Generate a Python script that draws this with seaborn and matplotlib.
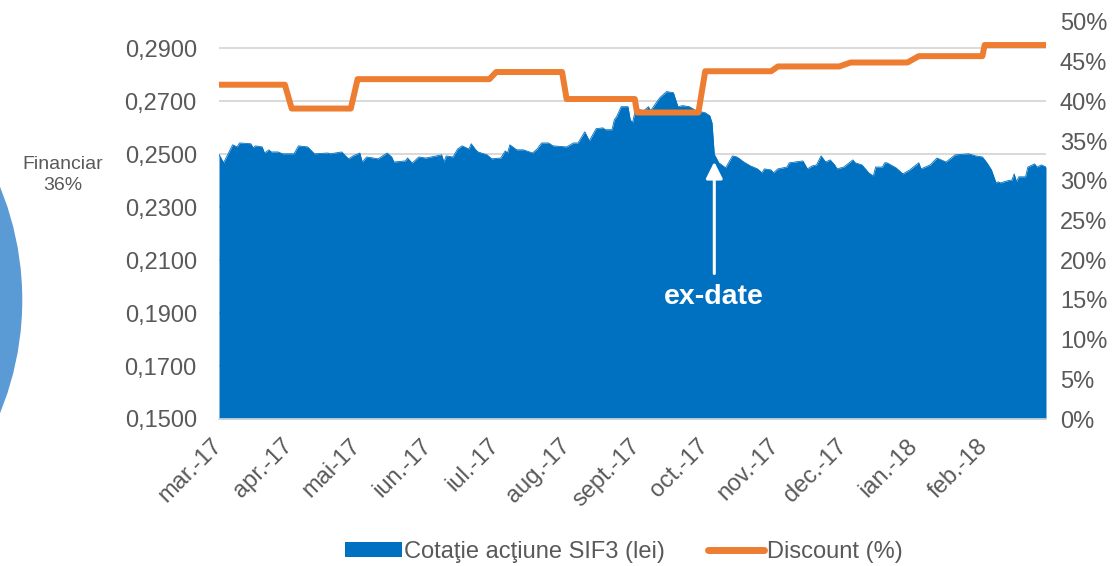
import numpy as np
import pandas as pd
import matplotlib
matplotlib.use("Agg")
import matplotlib.pyplot as plt
import seaborn as sns
from matplotlib.patches import Patch
from matplotlib.lines import Line2D
from matplotlib.ticker import FuncFormatter

# ---------------- data ----------------
start_date = "2017-03-01"

price_day = [0, 2, 6, 8, 9, 14, 15, 16, 19, 20,
             22, 23, 26, 28, 33, 35, 39, 42, 48, 49,
             54, 57, 59, 62, 63, 65, 70, 74, 76, 77,
             82, 83, 85, 88, 91, 98, 99, 100, 103, 105,
             107, 110, 111, 113, 114, 118, 120, 124, 126, 127,
             128, 131, 134, 138, 140, 142, 145, 147, 153, 156,
             158, 161, 163, 166, 169, 170, 173, 174, 175, 177,
             180, 181, 182, 183, 185, 187, 189, 190, 194, 197,
             200, 202, 204, 207, 210, 214, 216, 217, 218, 220,
             223, 226, 228, 231, 234, 237, 239, 240, 243, 244,
             246, 250, 251, 257, 259, 261, 263, 265, 267, 269,
             271, 272, 275, 279, 280, 283, 286, 288, 289, 292,
             293, 294, 298, 301, 304, 308, 309, 313, 316, 320,
             324, 330, 333, 336, 338, 340, 342, 343, 344, 347,
             349, 350, 351, 352, 355, 356, 359, 360, 362, 364]

price_val = [0.2500, 0.2468, 0.2536, 0.2528, 0.2543, 0.2540, 0.2525, 0.2532, 0.2528, 0.2505,
             0.2517, 0.2509, 0.2509, 0.2502, 0.2502, 0.2532, 0.2528, 0.2502, 0.2505, 0.2502,
             0.2509, 0.2483, 0.2494, 0.2505, 0.2471, 0.2490, 0.2483, 0.2505, 0.2490, 0.2471,
             0.2475, 0.2486, 0.2467, 0.2490, 0.2486, 0.2498, 0.2471, 0.2494, 0.2490, 0.2520,
             0.2532, 0.2520, 0.2540, 0.2517, 0.2509, 0.2498, 0.2483, 0.2486, 0.2513, 0.2505,
             0.2536, 0.2517, 0.2517, 0.2505, 0.2520, 0.2543, 0.2543, 0.2532, 0.2528, 0.2543,
             0.2543, 0.2585, 0.2551, 0.2597, 0.2600, 0.2593, 0.2593, 0.2631, 0.2642, 0.2680,
             0.2680, 0.2631, 0.2619, 0.2657, 0.2669, 0.2665, 0.2680, 0.2665, 0.2714, 0.2737,
             0.2733, 0.2680, 0.2684, 0.2680, 0.2665, 0.2657, 0.2646, 0.2619, 0.2500, 0.2468,
             0.2449, 0.2494, 0.2490, 0.2471, 0.2456, 0.2445, 0.2430, 0.2445, 0.2441, 0.2430,
             0.2445, 0.2452, 0.2468, 0.2475, 0.2445, 0.2456, 0.2460, 0.2494, 0.2471, 0.2479,
             0.2460, 0.2445, 0.2452, 0.2479, 0.2468, 0.2460, 0.2430, 0.2418, 0.2452, 0.2452,
             0.2468, 0.2468, 0.2449, 0.2426, 0.2441, 0.2468, 0.2445, 0.2460, 0.2486, 0.2471,
             0.2498, 0.2502, 0.2494, 0.2490, 0.2468, 0.2441, 0.2392, 0.2396, 0.2392, 0.2400,
             0.2403, 0.2426, 0.2396, 0.2415, 0.2415, 0.2452, 0.2464, 0.2452, 0.2460, 0.2452]

discount_day = [0, 29, 32, 58, 61, 119, 122, 151, 153, 183, 184,
                211, 214, 243, 246, 273, 278, 303, 308, 336, 337, 364]
discount_pct = [42.1, 42.1, 39.1, 39.1, 42.8, 42.8, 43.7, 43.7, 40.3, 40.3, 38.6,
                38.6, 43.8, 43.8, 44.4, 44.4, 44.9, 44.9, 45.7, 45.7, 47.1, 47.1]

month_labels = ["mar.-17", "apr.-17", "mai-17", "iun.-17", "iul.-17", "aug.-17",
                "sept.-17", "oct.-17", "nov.-17", "dec.-17", "ian.-18", "feb.-18"]

left_ticks = [0.15, 0.17, 0.19, 0.21, 0.23, 0.25, 0.27, 0.29]
right_ticks = [0, 5, 10, 15, 20, 25, 30, 35, 40, 45, 50]

pie_labels = ["Financiar", "Altele"]
pie_shares = [36, 64]

ex_date_day = 218
series_names = ["Cotaţie acţiune SIF3 (lei)", "Discount (%)"]

# ---------------- style ----------------
BLUE = "#0070C0"
ORANGE = "#ED7D31"
PIE_BLUE = "#5B9BD5"
GREY_TXT = "#595959"
GRID = "#D9D9D9"

sns.set_theme(style="white")
plt.rcParams["font.family"] = ["Liberation Sans", "DejaVu Sans"]
FS = 17

W, H = 1120, 566
fig = plt.figure(figsize=(W / 100, H / 100), dpi=100)

# ---- partial pie of neighbouring chart (clipped at left edge) ----
pax = fig.add_axes([-575 / W, (H - 599) / H, 598 / W, 598 / H])
pax.pie(pie_shares, startangle=-64.8, colors=[PIE_BLUE, "#A5A5A5"], radius=1)
pax.set_xlim(-1, 1)
pax.set_ylim(-1, 1)
pax.set_facecolor("none")
pax.axis("off")
fig.text(63 / W, 1 - 175 / H, f"{pie_labels[0]}\n{pie_shares[0]}%", ha="center", va="center",
         fontsize=14, color=GREY_TXT, linespacing=1.35)

# ---- main axes ----
start = pd.Timestamp(start_date)
df_price = pd.DataFrame({"date": start + pd.to_timedelta(price_day, unit="D"),
                         "price": price_val})
df_disc = pd.DataFrame({"date": start + pd.to_timedelta(discount_day, unit="D"),
                        "discount": discount_pct})

ax = fig.add_axes([219 / W, (H - 419) / H, 827 / W, 397 / H])
ax.fill_between(df_price["date"], df_price["price"], left_ticks[0], color=BLUE, lw=0, zorder=2)
sns.lineplot(data=df_price, x="date", y="price", ax=ax, color=BLUE, lw=0.6, zorder=2)

ax.set_ylim(0.15, 0.30)
ax.set_yticks(left_ticks)
ax.yaxis.set_major_formatter(FuncFormatter(lambda v, _: f"{v:.4f}".replace(".", ",")))
ax.set_xlim(start, start + pd.Timedelta(days=364))
month_starts = pd.date_range(start, periods=len(month_labels), freq="MS")
ax.set_xticks(month_starts)
ax.set_xticklabels(month_labels, rotation=45, ha="right", va="center", rotation_mode="anchor")
ax.set_xlabel("")
ax.set_ylabel("")
ax.grid(axis="y", color=GRID, lw=1.4, zorder=0)
ax.grid(axis="x", visible=False)
ax.set_axisbelow(True)
for s in ["top", "right", "left"]:
    ax.spines[s].set_visible(False)
ax.spines["bottom"].set_color(GRID)
ax.spines["bottom"].set_linewidth(1.2)
ax.tick_params(axis="y", length=0, pad=16, labelsize=FS, labelcolor=GREY_TXT)
ax.tick_params(axis="x", length=0, pad=17, labelsize=FS, labelcolor=GREY_TXT)

# ---- secondary axis ----
ax2 = ax.twinx()
sns.lineplot(data=df_disc, x="date", y="discount", ax=ax2, color=ORANGE, lw=4.3,
             solid_capstyle="round", solid_joinstyle="round", zorder=3)
ax2.set_ylim(0, 50)
ax2.set_yticks(right_ticks)
ax2.yaxis.set_major_formatter(FuncFormatter(lambda v, _: f"{v:.0f}%"))
ax2.set_ylabel("")
ax2.grid(False)
for s in ax2.spines.values():
    s.set_visible(False)
ax2.tick_params(axis="y", length=0, pad=10, labelsize=FS, labelcolor=GREY_TXT)

# ---- ex-date annotation ----
ex_date = start + pd.Timedelta(days=ex_date_day)
ax.annotate("ex-date", xy=(ex_date, 0.2472), xytext=(ex_date, 0.1962),
            ha="center", va="center", fontsize=20.5, fontweight="bold", color="white",
            arrowprops=dict(arrowstyle="-|>,head_width=0.5,head_length=1.0", mutation_scale=10,
                            color="white", lw=2.2, shrinkA=5, shrinkB=0),
            zorder=5)

# ---- legend ----
handles = [Patch(facecolor=BLUE, edgecolor="none"),
           Line2D([0], [0], color=ORANGE, lw=5, solid_capstyle="round")]
fig.legend(handles, series_names, loc="center", bbox_to_anchor=(624 / W, 1 - 552 / H),
           ncol=2, frameon=False, fontsize=FS, handlelength=2.4, handletextpad=0.1,
           columnspacing=1.8, labelcolor=GREY_TXT, handleheight=0.6)

fig.savefig("out.png", dpi=100)
